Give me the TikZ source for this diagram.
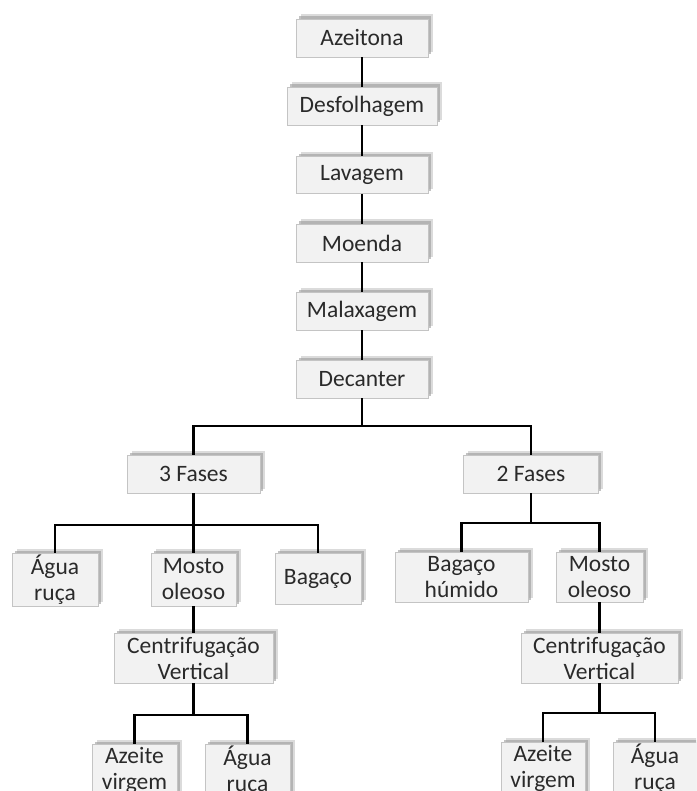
\documentclass[tikz,border=0pt]{standalone}
\usepackage{fontspec}
\setmainfont{Carlito}
\usetikzlibrary{shadows}
\definecolor{boxfill}{HTML}{F2F2F2}
\definecolor{boxline}{HTML}{C4C4C4}
\definecolor{txt}{HTML}{2A2A2A}
\definecolor{shade}{HTML}{9A9A9A}
\tikzset{
  box/.style={draw=boxline, line width=0.8pt, fill=boxfill, text=txt,
    inner sep=0pt, align=center,
    font=\fontsize{23.5}{26}\selectfont,
    general shadow={fill=shade, opacity=0.35, shadow xshift=4.5pt, shadow yshift=4.5pt},
    general shadow={fill=shade, opacity=0.6, shadow xshift=2.5pt, shadow yshift=2.5pt}},
  conn/.style={draw=black, line width=2.2pt}
}
\begin{document}
\begin{tikzpicture}[x=1pt,y=-1pt]
\clip (0,0) rectangle (696,791);
\fill[white] (0,0) rectangle (696,791);
% main chain
\node[box, minimum width=132pt, minimum height=38pt] (az)  at (362,38)  {Azeitona};
\node[box, minimum width=150pt, minimum height=38pt] (des) at (362,106) {Desfolhagem};
\node[box, minimum width=132pt, minimum height=37pt] (lav) at (362,175) {Lavagem};
\node[box, minimum width=132pt, minimum height=38pt] (moe) at (362,243) {Moenda};
\node[box, minimum width=132pt, minimum height=38pt] (mal) at (362,311) {Malaxagem};
\node[box, minimum width=132pt, minimum height=38pt] (dec) at (362,379) {Decanter};
% phases
\node[box, minimum width=133pt, minimum height=38pt] (f3) at (193.5,474) {3 Fases};
\node[box, minimum width=135pt, minimum height=38pt] (f2) at (531,474) {2 Fases};
% 3 fases children
\node[box, minimum width=86pt, minimum height=53pt] (ar1) at (55,579.5) {Água\\ruça};
\node[box, minimum width=85pt, minimum height=53pt] (mo1) at (193.5,579.5) {Mosto\\oleoso};
\node[box, minimum width=86pt, minimum height=51pt] (bag) at (318,578.5) {Bagaço};
% 2 fases children
\node[box, minimum width=133pt, minimum height=50pt] (bh) at (461.5,577) {Bagaço\\húmido};
\node[box, minimum width=87pt, minimum height=50pt] (mo2) at (599.5,577) {Mosto\\oleoso};
% centrifugation
\node[box, minimum width=159pt, minimum height=50pt] (cv1) at (193.5,658) {Centrifugação\\Vertical};
\node[box, minimum width=157pt, minimum height=50pt] (cv2) at (599.5,658) {Centrifugação\\Vertical};
% final
\node[box, minimum width=85pt, minimum height=53pt] (av1) at (134.5,770.5) {Azeite\\virgem};
\node[box, minimum width=85pt, minimum height=53pt] (aru1) at (247.5,770.5) {Água\\ruça};
\node[box, minimum width=84pt, minimum height=53pt] (av2) at (543,768.5) {Azeite\\virgem};
\node[box, minimum width=84pt, minimum height=53pt] (aru2) at (655,768.5) {Água\\ruça};
% junctions
\coordinate (j1) at (362,426);
\coordinate (j2) at (193.5,525);
\coordinate (j3) at (531,523);
\coordinate (j4) at (193.5,715);
\coordinate (j5) at (599.5,713);
% connectors
\draw[conn] (az.south) -- (des.north);
\draw[conn] (des.south) -- (lav.north);
\draw[conn] (lav.south) -- (moe.north);
\draw[conn] (moe.south) -- (mal.north);
\draw[conn] (mal.south) -- (dec.north);
\draw[conn] (dec.south) -- (j1);
\draw[conn] (f3.north) |- (j1) -| (f2.north);
\draw[conn] (f3.south) -- (j2);
\draw[conn] (ar1.north) |- (j2) -| (bag.north);
\draw[conn] (j2) -- (mo1.north);
\draw[conn] (f2.south) -- (j3);
\draw[conn] (bh.north) |- (j3) -| (mo2.north);
\draw[conn] (mo1.south) -- (cv1.north);
\draw[conn] (mo2.south) -- (cv2.north);
\draw[conn] (cv1.south) -- (j4);
\draw[conn] (av1.north) |- (j4) -| (aru1.north);
\draw[conn] (cv2.south) -- (j5);
\draw[conn] (av2.north) |- (j5) -| (aru2.north);
\end{tikzpicture}
\end{document}
